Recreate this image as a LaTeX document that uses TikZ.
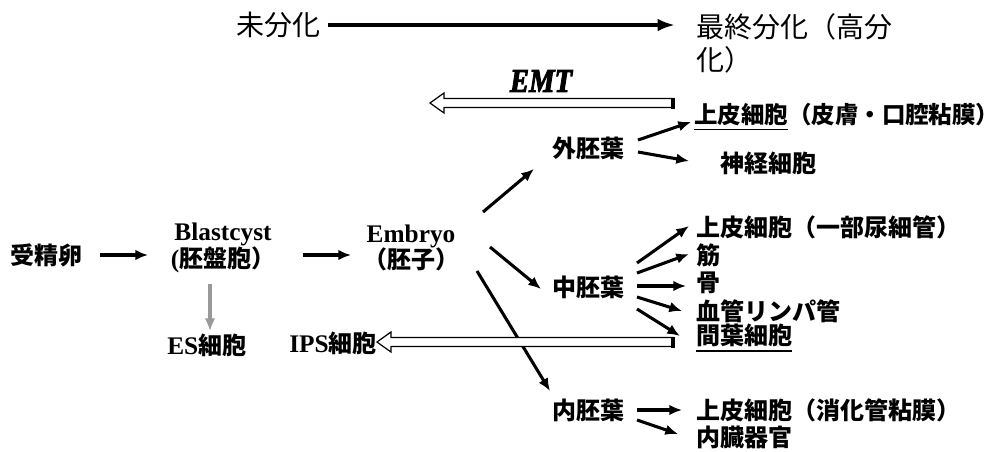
\documentclass[tikz,border=0pt]{standalone}
\usepackage{fontspec}
\setmainfont{Liberation Serif}
\newfontfamily\jp{Noto Sans CJK JP}
\newfontfamily\emtf[FakeBold=3]{Liberation Serif Bold Italic}
\usetikzlibrary{arrows.meta,calc}
\newcommand\myul[1]{\setbox0\hbox{#1}\rlap{\rule[-5pt]{\wd0}{1.4pt}}\box0}
\begin{document}
\begin{tikzpicture}[x=0.75pt,y=-0.75pt,
 arr/.style={line width=2.3pt,-{Latex[length=9.5pt,width=8pt]}},
 garr/.style={arr, draw=gray!80},
 jpb/.style={font=\jp\bfseries\fontsize{18}{20}\selectfont, inner sep=0pt, anchor=west},
 jpr/.style={font=\jp\fontsize{21}{25}\selectfont, inner sep=0pt, align=left},
 ser/.style={font=\bfseries\fontsize{19}{20}\selectfont, inner sep=0pt, align=center},
 hollow/.style={draw=black, line width=0.9pt, fill=white}]
\useasboundingbox (0,0) rectangle (1000,451);

% top line
\node[jpr, anchor=west] (undiff) at (236,25) {未分化};
\node[jpr, anchor=west] (final) at (696,43.5) {最終分化（高分\\化）};
\coordinate (ua) at (328,25);
\coordinate (ub) at (675,25);
\draw[line width=2.6pt,-{Latex[length=13pt,width=9.5pt]}] (ua) -- (ub);

% EMT
\node[font=\emtf\fontsize{25}{26}\selectfont, inner sep=0pt, xscale=0.86] (emt) at (541,81) {EMT};
\coordinate (emtR) at (673,103);
\coordinate (emtL) at (430,103);
\draw[hollow] ($(emtR)+(0,-4.5)$) -- ($(emtL)+(14,-4.5)$) -- ($(emtL)+(14,-10)$) -- (emtL) -- ($(emtL)+(14,10)$) -- ($(emtL)+(14,4.5)$) -- ($(emtR)+(0,4.5)$) -- cycle;
\draw[line width=2.5pt] ($(emtR)+(0,-5.5)$) -- ($(emtR)+(0,5.5)$);

% left chain
\node[jpb] (zyg) at (10,255) {受精卵};
\node[ser] (blast) at (223,248) {Blastcyst\\({\jp\fontsize{18}{20}\selectfont 胚盤胞）}};
\node[ser] (emb) at (411,248) {Embryo\\{\jp\fontsize{18}{20}\selectfont （胚子）}};
\node[ser, anchor=west] (es) at (167,345) {ES{\jp\fontsize{18}{20}\selectfont 細胞}};
\node[ser, anchor=west] (ips) at (289,343) {IPS{\jp\fontsize{18}{20}\selectfont 細胞}};

\coordinate (a1s) at (100,255); \coordinate (a1e) at (148,255);
\coordinate (a2s) at (303,255); \coordinate (a2e) at (351,255);
\coordinate (g1s) at (210,284); \coordinate (g1e) at (210,331);
\draw[arr] (a1s) -- (a1e);
\draw[arr] (a2s) -- (a2e);
\draw[garr] (g1s) -- (g1e);

% germ layers
\node[jpb] (ecto) at (552,148) {外胚葉};
\node[jpb] (meso) at (552,287) {中胚葉};
\node[jpb] (endo) at (552,410) {内胚葉};

\coordinate (e1s) at (483,212); \coordinate (e1e) at (534,169);
\coordinate (e2s) at (490,247); \coordinate (e2e) at (541,289);
\coordinate (e3s) at (477,271); \coordinate (e3e) at (550,391);
\draw[arr] (e1s) -- (e1e);
\draw[arr] (e2s) -- (e2e);
\draw[arr] (e3s) -- (e3e);

% ectoderm products
\node[jpb, font=\jp\bfseries\fontsize{17.6}{20}\selectfont] (epi1) at (694,117) {\myul{上皮細胞}（皮膚・口腔粘膜）};
\node[jpb] (neur) at (720,163) {神経細胞};
\coordinate (x1s) at (638,140); \coordinate (x1e) at (691,122);
\coordinate (x2s) at (638,152); \coordinate (x2e) at (689,161);
\draw[arr] (x1s) -- (x1e);
\draw[arr] (x2s) -- (x2e);

% mesoderm products
\node[jpb] (epi2) at (696,227) {上皮細胞（一部尿細管）};
\node[jpb] (musc) at (696,255) {筋};
\node[jpb] (bone) at (696,283) {骨};
\node[jpb] (vasc) at (696,311) {血管リンパ管};
\node[jpb] (mesen) at (696,338) {\myul{間葉細胞}};
\coordinate (m1s) at (637,263); \coordinate (m1e) at (689,226);
\coordinate (m2s) at (637,273); \coordinate (m2e) at (689,254);
\coordinate (m3s) at (637,286); \coordinate (m3e) at (686,286);
\coordinate (m4s) at (637,297); \coordinate (m4e) at (682,311);
\coordinate (m5s) at (637,309); \coordinate (m5e) at (680,336);
\draw[arr] (m1s) -- (m1e);
\draw[arr] (m2s) -- (m2e);
\draw[arr] (m3s) -- (m3e);
\draw[arr] (m4s) -- (m4e);
\draw[arr] (m5s) -- (m5e);

% iPS hollow arrow
\coordinate (ipsR) at (673,342);
\coordinate (ipsL) at (ips.east);
\draw[hollow] ($(ipsR)+(0,-4.5)$) -- ($(ipsL |- ipsR)+(14,-4.5)$) -- ($(ipsL |- ipsR)+(14,-10)$) -- (ipsL |- ipsR) -- ($(ipsL |- ipsR)+(14,10)$) -- ($(ipsL |- ipsR)+(14,4.5)$) -- ($(ipsR)+(0,4.5)$) -- cycle;
\draw[line width=2.5pt] ($(ipsR)+(0,-5.5)$) -- ($(ipsR)+(0,5.5)$);

% endoderm products
\node[jpb] (epi3) at (696,410) {上皮細胞（消化管粘膜）};
\node[jpb] (visc) at (696,437) {内臓器官};
\coordinate (n1s) at (637,410); \coordinate (n1e) at (682,410);
\coordinate (n2s) at (637,420); \coordinate (n2e) at (678,434);
\draw[arr] (n1s) -- (n1e);
\draw[arr] (n2s) -- (n2e);
\end{tikzpicture}
\end{document}
